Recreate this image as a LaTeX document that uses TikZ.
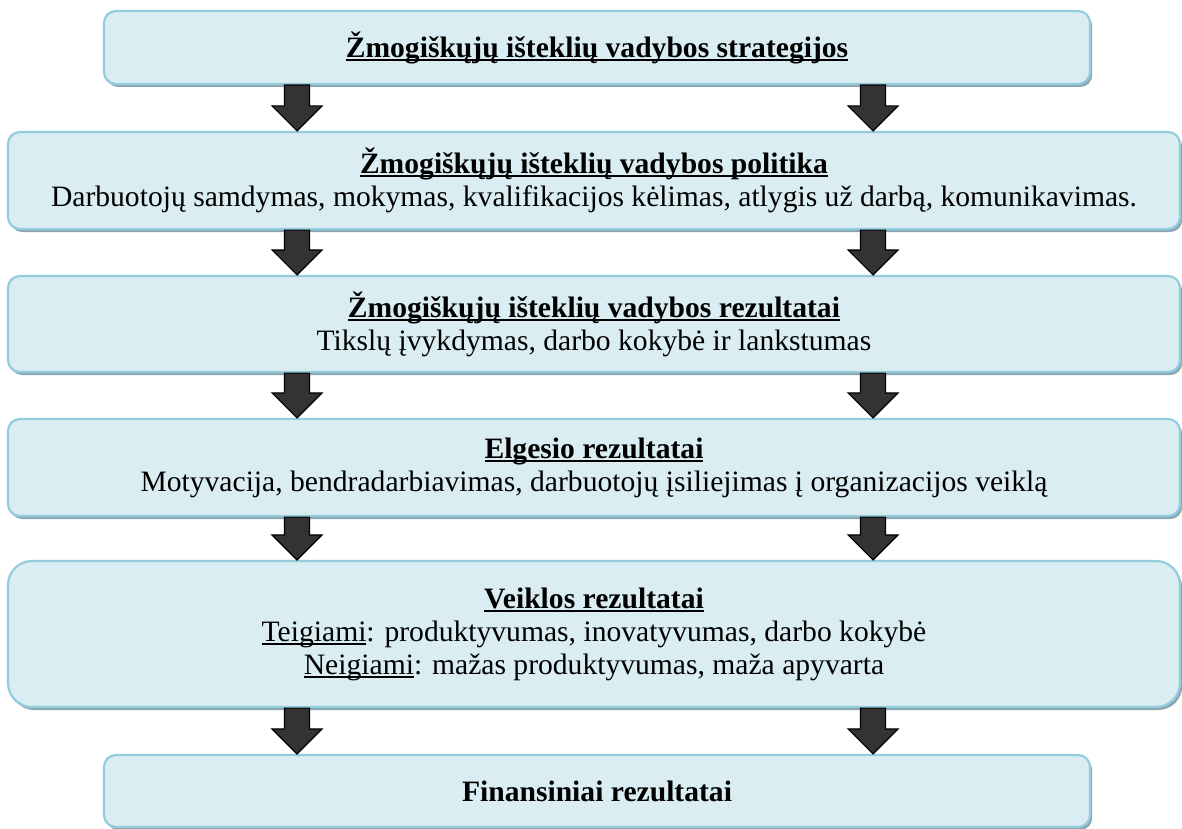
\documentclass[tikz,border=0pt]{standalone}
\usepackage{fontspec}
\setmainfont{Liberation Serif}
\usetikzlibrary{shadows,calc}

\definecolor{boxfill}{HTML}{DAEDF3}
\definecolor{boxline}{HTML}{93CDDD}
\definecolor{boxshade}{HTML}{8AA7B1}
\definecolor{arrowfill}{HTML}{333333}

% underline at a fixed depth below the baseline
\newsavebox\ulinebox
\newcommand\ulined[2][0.7pt]{\sbox\ulinebox{#2}%
  \rlap{\rule[-1.8pt]{\wd\ulinebox}{#1}}\usebox\ulinebox}
\newcommand\hd[1]{\ulined[1pt]{\textbf{#1}}}

% block arrow from the bottom of one box to the top of the next, at a given x (px)
\newcommand\blockarrow[3]{%
  \draw[blkarrow] let \p1=(#1.south), \p2=(#2.north), \n1={#3*0.5pt} in
    ({\n1-6.25pt},\y1) -- ({\n1+6.25pt},\y1) -- ({\n1+6.25pt},{\y2+12.5pt})
    -- ({\n1+12.5pt},{\y2+12.5pt}) -- (\n1,\y2) -- ({\n1-12.5pt},{\y2+12.5pt})
    -- ({\n1-6.25pt},{\y2+12.5pt}) -- cycle;}

\tikzset{
  stagebox/.style={draw=boxline, line width=1.1pt, fill=boxfill,
    rounded corners=#1, align=center, inner sep=0pt,
    drop shadow={opacity=1, fill=boxshade, shadow xshift=1.1pt, shadow yshift=-1.5pt},
    font=\fontsize{14.8}{16.5}\selectfont},
  stagebox/.default=6pt,
  blkarrow/.style={draw=black, line width=0.6pt, fill=arrowfill, line join=miter}
}

\begin{document}
\begin{tikzpicture}[x=0.5pt, y=-0.5pt]
\useasboundingbox (0,0) rectangle (1182,829);

\node[stagebox, minimum width=493pt, minimum height=36.5pt] (s1) at (597,47.5)
  {\hd{Žmogiškųjų išteklių vadybos strategijos}};

\node[stagebox, minimum width=586pt, minimum height=48.5pt] (s2) at (594,180.5)
  {\hd{Žmogiškųjų išteklių vadybos politika}\\
   Darbuotojų samdymas, mokymas, kvalifikacijos kėlimas, atlygis už darbą, komunikavimas.};

\node[stagebox, minimum width=586pt, minimum height=48pt] (s3) at (594,324)
  {\hd{Žmogiškųjų išteklių vadybos rezultatai}\\
   Tikslų įvykdymas, darbo kokybė ir lankstumas};

\node[stagebox, minimum width=586pt, minimum height=48.5pt] (s4) at (594,467.5)
  {\hd{Elgesio rezultatai}\\
   Motyvacija, bendradarbiavimas, darbuotojų įsiliejimas į organizacijos veiklą};

\node[stagebox=12pt, minimum width=586pt, minimum height=73pt] (s5) at (594,634)
  {\hd{Veiklos rezultatai}\\
   \ulined{Teigiami}: produktyvumas, inovatyvumas, darbo kokybė\\
   \ulined{Neigiami}: mažas produktyvumas, maža apyvarta};

\node[stagebox, minimum width=493pt, minimum height=36pt] (s6) at (597,791)
  {\textbf{Finansiniai rezultatai}};

\foreach \a/\b in {s1/s2, s2/s3, s3/s4, s4/s5, s5/s6}{
  \blockarrow{\a}{\b}{297}
  \blockarrow{\a}{\b}{873}
}
\end{tikzpicture}
\end{document}
